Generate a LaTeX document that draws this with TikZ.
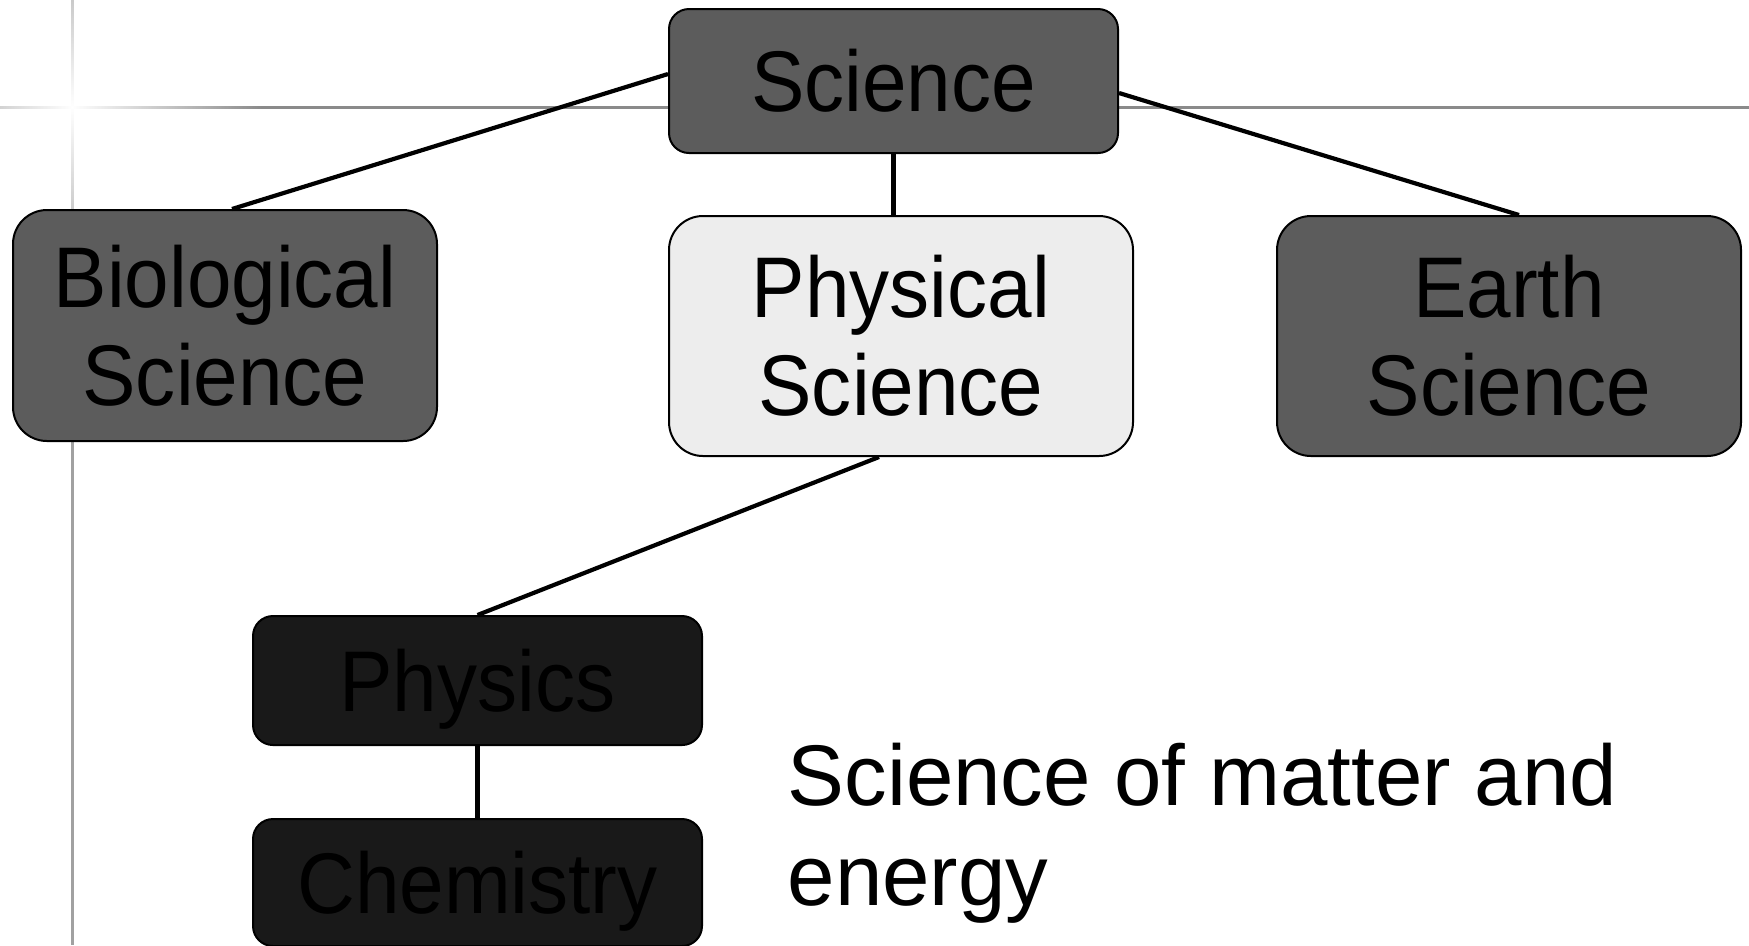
\documentclass[tikz,border=0pt]{standalone}
\usepackage{fontspec}
\setmainfont[FakeStretch=0.93]{Liberation Sans}
\newfontfamily\plainfont[FakeStretch=0.99]{Liberation Sans}
\usepackage{tikz}
\usetikzlibrary{positioning, fadings}

\definecolor{midgray}{gray}{0.36}
\definecolor{palegray}{gray}{0.93}
\definecolor{darkgray}{gray}{0.10}
\definecolor{rulegray}{gray}{0.54}
\definecolor{rulegrayv}{gray}{0.63}

\tikzfading[name=glowfade, inner color=transparent!0, outer color=transparent!100]

\begin{document}
\begin{tikzpicture}[
    x=0.1mm, y=-0.1mm,
    node distance=7.2mm,
    box/.style={
        rectangle,
        rounded corners=3.4mm,
        draw=black,
        line width=0.2mm,
        align=center,
        inner sep=0pt,
        font=\fontsize{24.5}{28}\selectfont
    },
    topbox/.style={
        box,
        rounded corners=2mm,
        fill=midgray,
        minimum width=44.9mm,
        minimum height=14.4mm
    },
    fieldbox/.style={
        box,
        minimum width=46.4mm,
        minimum height=24mm
    },
    subbox/.style={
        box,
        rounded corners=2mm,
        fill=darkgray,
        text depth=0pt,
        minimum width=44.9mm,
        minimum height=12.7mm
    },
    link/.style={
        line width=0.42mm
    }
]

\useasboundingbox (0,0) rectangle (1749,945);

% ------------------------------------------------
% Background rules with glow
% ------------------------------------------------

\fill[rulegray] (0,105.5) rectangle (1749,108.5);
\fill[rulegrayv] (70.5,0) rectangle (73.5,945);
\fill[white, path fading=glowfade] (72,107) circle (190);

% ------------------------------------------------
% Top level
% ------------------------------------------------

\node[topbox] (science) at (893.5,81) {Science};

% ------------------------------------------------
% Branches of science
% ------------------------------------------------

\node[fieldbox, fill=midgray, minimum width=42.4mm, minimum height=23.1mm]
    (biological) at (225,325.5) {Biological\\Science};

\node[fieldbox, fill=palegray] (physical) at (901,336) {Physical\\Science};

\node[fieldbox, fill=midgray] (earth) at (1509,336) {Earth\\Science};

% ------------------------------------------------
% Physical science subfields
% ------------------------------------------------

\node[subbox, minimum height=12.9mm] (physics) at (477.5,680.5) {Physics};

\node[subbox, below=of physics] (chemistry) {Chemistry};

\node[anchor=north west, inner sep=0pt, align=left,
      font=\plainfont\fontsize{24.5}{28.5}\selectfont] (definition) at (787,742) {
    Science of matter and\\
    energy
};

% ------------------------------------------------
% Connectors
% ------------------------------------------------

\draw[link] ([yshift=0.7mm]science.west) -- ([xshift=0.7mm]biological.north);
\draw[link] (science.south) -- (science.south |- physical.north);
\draw[link] ([yshift=-1.2mm]science.east) -- ([xshift=1mm]earth.north);

\draw[link] ([xshift=-2.2mm]physical.south) -- (physics.north);
\draw[link] (physics.south) -- (chemistry.north);

\end{tikzpicture}
\end{document}
